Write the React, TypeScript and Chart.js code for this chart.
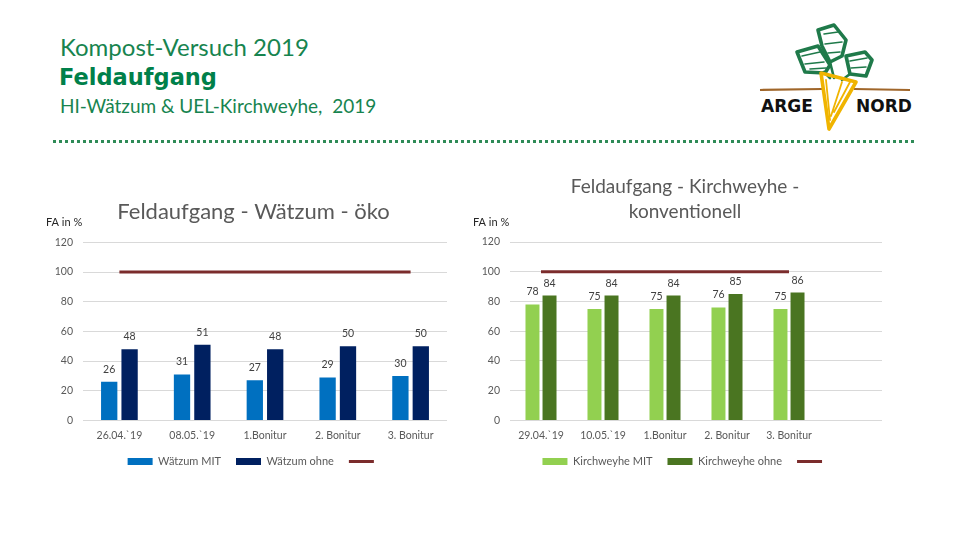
import React, { useEffect, useRef } from "react";
import { Chart, registerables } from "chart.js";

Chart.register(...registerables);

// ---------- data ----------
const leftTitle = "Feldaufgang - Wätzum - öko";
const leftCategories = ["26.04.`19", "08.05.`19", "1.Bonitur", "2. Bonitur", "3. Bonitur"];
const leftMit = [26, 31, 27, 29, 30];
const leftOhne = [48, 51, 48, 50, 50];
const leftRef = [100, 100, 100, 100, 100];
const leftLabels = ["Wätzum MIT", "Wätzum ohne", ""];

const rightTitle = ["Feldaufgang - Kirchweyhe -", "konventionell"];
const rightCategories = ["29.04.`19", "10.05.`19", "1.Bonitur", "2. Bonitur", "3. Bonitur", ""];
const rightMit = [78, 75, 75, 76, 75, null];
const rightOhne = [84, 84, 84, 85, 86, null];
const rightRef = [100, 100, 100, 100, 100, null];
const rightLabels = ["Kirchweyhe MIT", "Kirchweyhe ohne", ""];

const yMin = 0;
const yMax = 120;
const yStep = 20;
const yAxisLabel = "FA in %";

const FONT = "Lato, 'Open Sans', sans-serif";
const TICK_COLOR = "#595959";
const GRID_COLOR = "#d9d9d9";
const LINE_COLOR = "#7b2c2c";

const valueLabelPlugin = {
  id: "valueLabels",
  afterDatasetsDraw(chart: any) {
    const ctx = chart.ctx;
    ctx.save();
    ctx.font = `10.5px ${FONT}`;
    ctx.fillStyle = "#404040";
    ctx.textAlign = "center";
    ctx.textBaseline = "alphabetic";
    chart.data.datasets.forEach((ds: any, i: number) => {
      if (ds.type !== "bar") return;
      const meta = chart.getDatasetMeta(i);
      meta.data.forEach((el: any, j: number) => {
        const v = ds.data[j];
        if (v === null || v === undefined) return;
        ctx.fillText(String(v), el.x, el.y - 9);
      });
    });
    ctx.restore();
  },
};

const axisLabelPlugin = {
  id: "axisLabel",
  afterDraw(chart: any) {
    const ctx = chart.ctx;
    const a = chart.chartArea;
    ctx.save();
    ctx.font = `11px ${FONT}`;
    ctx.fillStyle = "#262626";
    ctx.textAlign = "left";
    ctx.textBaseline = "middle";
    ctx.fillText(yAxisLabel, a.left - 37, a.top - 20);
    ctx.restore();
  },
};

type Cfg = {
  title: string | string[];
  titleSize: number;
  titleLineHeight: number;
  titlePadTop: number;
  titlePadBottom: number;
  categories: string[];
  mit: (number | null)[];
  ohne: (number | null)[];
  ref: (number | null)[];
  labels: string[];
  colorMit: string;
  colorOhne: string;
  yWidth: number;
  rightGap: number;
  catPct: number;
  barPct: number;
};

function BarChart({ cfg, style }: { cfg: Cfg; style: React.CSSProperties }) {
  const ref = useRef<HTMLCanvasElement | null>(null);
  useEffect(() => {
    if (!ref.current) return;
    const chart = new Chart(ref.current, {
      type: "bar",
      data: {
        labels: cfg.categories,
        datasets: [
          {
            type: "bar",
            label: cfg.labels[0],
            data: cfg.mit,
            backgroundColor: cfg.colorMit,
            borderWidth: 0,
            pointStyle: "rect",
            categoryPercentage: cfg.catPct,
            barPercentage: cfg.barPct,
          } as any,
          {
            type: "bar",
            label: cfg.labels[1],
            data: cfg.ohne,
            backgroundColor: cfg.colorOhne,
            borderWidth: 0,
            pointStyle: "rect",
            categoryPercentage: cfg.catPct,
            barPercentage: cfg.barPct,
          } as any,
          {
            type: "line",
            label: cfg.labels[2],
            data: cfg.ref,
            borderColor: LINE_COLOR,
            backgroundColor: LINE_COLOR,
            borderWidth: 3,
            pointRadius: 0,
            pointStyle: "line",
            fill: false,
            spanGaps: false,
          } as any,
        ],
      },
      options: {
        animation: false,
        responsive: false,
        maintainAspectRatio: false,
        layout: { padding: 0 },
        plugins: {
          title: {
            display: true,
            text: cfg.title,
            color: "#595959",
            font: { family: FONT, size: cfg.titleSize, weight: "normal", lineHeight: cfg.titleLineHeight },
            padding: { top: cfg.titlePadTop, bottom: cfg.titlePadBottom },
          },
          legend: {
            display: true,
            position: "bottom",
            labels: {
              usePointStyle: true,
              pointStyleWidth: 25,
              boxHeight: 7,
              padding: 15,
              color: "#595959",
              font: { family: FONT, size: 11 },
            },
          },
          tooltip: { enabled: false },
        },
        scales: {
          x: {
            grid: { display: false, drawTicks: false },
            border: { display: false },
            ticks: { color: TICK_COLOR, font: { family: FONT, size: 10.5 }, padding: 9, maxRotation: 0, autoSkip: false },
            afterFit: (scale: any) => {
              scale.height = scale.height - 10;
            },
          },
          y: {
            min: yMin,
            max: yMax,
            grid: { color: GRID_COLOR, drawTicks: false, lineWidth: 1 },
            border: { display: false },
            ticks: { stepSize: yStep, color: TICK_COLOR, font: { family: FONT, size: 10.5 }, padding: 10 },
            afterFit: (scale: any) => {
              scale.width = cfg.yWidth;
            },
          },
          yR: {
            type: "linear",
            position: "right",
            display: true,
            grid: { display: false, drawTicks: false },
            border: { display: false },
            ticks: { display: false },
            afterFit: (scale: any) => {
              scale.width = cfg.rightGap;
            },
          },
        },
      },
      plugins: [valueLabelPlugin, axisLabelPlugin],
    });
    return () => chart.destroy();
  }, []);
  return <canvas ref={ref} width={style.width as number} height={style.height as number} style={style} />;
}

function Logo() {
  // drawn in a box whose origin is page (750, 22)
  return (
    <svg width={170} height={115} viewBox="0 0 170 115" style={{ position: "absolute", left: 750, top: 22 }}>
      <g fill="none" stroke="#1f7a4a" strokeWidth={3.6} strokeLinejoin="round" strokeLinecap="round">
        {/* left leaf */}
        <polygon points="47,30 68,24 80,43 75,51 55,50" />
        <path d="M52,34 L70,30 M55,42 L74,40 M60,47 L76,46" strokeWidth={1.6} />
        {/* middle leaf */}
        <polygon points="68,8 84,3 96,18 92,34 80,40 72,24" />
        <path d="M74,12 L88,10 M75,22 L92,20 M78,31 L90,30" strokeWidth={1.6} />
        {/* right leaf */}
        <polygon points="96,34 115,30 122,38 116,54 100,52" />
        <path d="M100,39 L117,36 M101,46 L116,45" strokeWidth={1.6} />
        {/* stems */}
        <path d="M74,50 L80,56 M80,40 L84,56 M100,52 L92,58" strokeWidth={2.6} />
      </g>
      {/* ground line */}
      <path d="M10,68 L72,67 M104,67 L160,68" stroke="#a0662a" strokeWidth={2.2} />
      {/* carrot */}
      <g fill="none" stroke="#f0b400" strokeWidth={3.6} strokeLinejoin="round" strokeLinecap="round">
        <polygon points="71,51 106,60 79,107" />
        <path d="M76,58 L80,98 M92,60 L81,94 M100,60 L84,90" strokeWidth={1.8} />
      </g>
      <text x={11} y={90} fontFamily="'DejaVu Sans', sans-serif" fontWeight="bold" fontSize={17} fill="#111">ARGE</text>
      <text x={106} y={90} fontFamily="'DejaVu Sans', sans-serif" fontWeight="bold" fontSize={17} fill="#111">NORD</text>
    </svg>
  );
}

const leftCfg: Cfg = {
  title: leftTitle,
  titleSize: 22,
  titleLineHeight: 1.2,
  titlePadTop: 9,
  titlePadBottom: 17,
  categories: leftCategories,
  mit: leftMit,
  ohne: leftOhne,
  ref: leftRef,
  labels: leftLabels,
  colorMit: "#0070c0",
  colorOhne: "#002060",
  yWidth: 43,
  rightGap: 20,
  catPct: 0.56,
  barPct: 0.8,
};

const rightCfg: Cfg = {
  title: rightTitle,
  titleSize: 19,
  titleLineHeight: 1.316,
  titlePadTop: 9.5,
  titlePadBottom: 17.5,
  categories: rightCategories,
  mit: rightMit,
  ohne: rightOhne,
  ref: rightRef,
  labels: rightLabels,
  colorMit: "#92d050",
  colorOhne: "#4a7521",
  yWidth: 47,
  rightGap: 25,
  catPct: 0.55,
  barPct: 0.82,
};

export default function App() {
  return (
    <div style={{ position: "fixed", left: 0, top: 0, width: 960, height: 540, background: "#fff", overflow: "hidden" }}>
      <div style={{ position: "absolute", left: 60, top: 33, fontFamily: FONT, fontSize: 24, color: "#17844f", lineHeight: "28px", whiteSpace: "nowrap" }}>
        Kompost-Versuch 2019
      </div>
      <div style={{ position: "absolute", left: 59, top: 63, fontFamily: "'DejaVu Sans', sans-serif", fontWeight: "bold", fontSize: 22.5, color: "#00804a", lineHeight: "28px", whiteSpace: "nowrap" }}>
        Feldaufgang
      </div>
      <div style={{ position: "absolute", left: 60, top: 95, fontFamily: FONT, fontSize: 19, color: "#17844f", lineHeight: "22px", whiteSpace: "pre" }}>
        {"HI-Wätzum & UEL-Kirchweyhe,  2019"}
      </div>
      <div style={{ position: "absolute", left: 53, top: 140, width: 862, height: 3, background: "repeating-linear-gradient(to right, #2e8b57 0px, #2e8b57 3px, transparent 3px, transparent 6px)" }} />
      <Logo />
      <BarChart cfg={leftCfg} style={{ position: "absolute", left: 40, top: 190, width: 427, height: 287 }} />
      <BarChart cfg={rightCfg} style={{ position: "absolute", left: 463, top: 165, width: 444, height: 312 }} />
    </div>
  );
}
